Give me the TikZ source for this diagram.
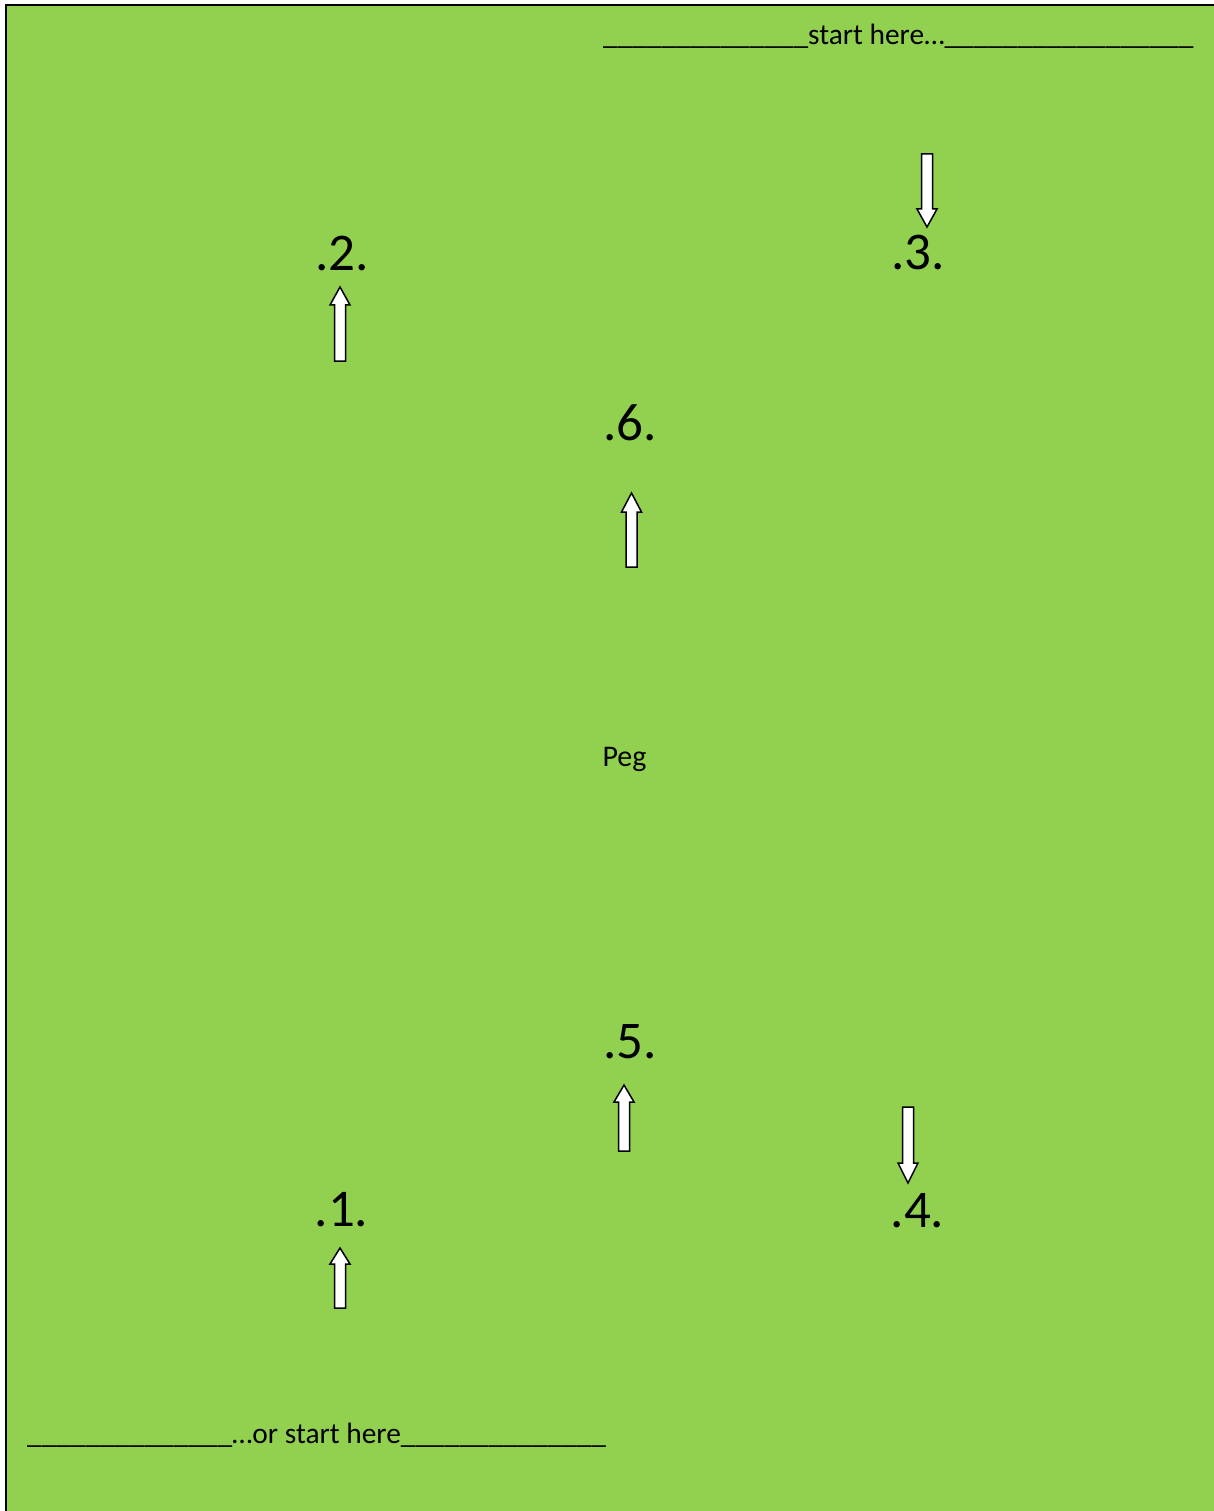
\documentclass[tikz,border=0pt]{standalone}
\usepackage{fontspec}
\setmainfont{Carlito}
\definecolor{pagegreen}{HTML}{92D050}
\newcommand\blockup[4]{% x, tip, headbase, bottom
  \filldraw[arrowbox] ({#1-5.5},-#4) -- ({#1-5.5},-#3) -- ({#1-10},-#3) -- (#1,-#2) -- ({#1+10},-#3) -- ({#1+5.5},-#3) -- ({#1+5.5},-#4) -- cycle;}
\newcommand\blockdown[4]{% x, top, headbase, tip
  \filldraw[arrowbox] ({#1-5.5},-#2) -- ({#1-5.5},-#3) -- ({#1-10},-#3) -- (#1,-#4) -- ({#1+10},-#3) -- ({#1+5.5},-#3) -- ({#1+5.5},-#2) -- cycle;}
\begin{document}
\begin{tikzpicture}[x=1pt,y=1pt,
  arrowbox/.style={fill=white,draw=black,line width=1.5pt,line join=miter},
  numlabel/.style={anchor=base,inner sep=0pt,font=\fontsize{53}{60}\selectfont},
  linelabel/.style={anchor=base west,inner sep=0pt,font=\fontsize{29.4}{34}\selectfont},
  peglabel/.style={anchor=base,inner sep=0pt,font=\fontsize{30}{36}\selectfont}]
\useasboundingbox (0,0) rectangle (1214,-1511);
\clip (0,0) rectangle (1214,-1511);
\filldraw[fill=pagegreen,draw=black,line width=2pt] (6,-5) rectangle (1230,-1530);
\node[linelabel] (top) at (603,-45) {\_\_\_\_\_\_\_\_\_\_\_\_\_\_start here…\_\_\_\_\_\_\_\_\_\_\_\_\_\_\_\_\_};
\node[linelabel] (bottom) at (27,-1443) {\_\_\_\_\_\_\_\_\_\_\_\_\_\_…or start here\_\_\_\_\_\_\_\_\_\_\_\_\_\_};
\node[numlabel] (n2) at (342,-271) {.2.};
\node[numlabel] (n3) at (918,-270) {.3.};
\node[numlabel] (n6) at (630,-440) {.6.};
\node[numlabel] (n5) at (630,-1058) {.5.};
\node[numlabel] (n1) at (341.5,-1226) {.1.};
\node[numlabel] (n4) at (917.5,-1227) {.4.};
\node[peglabel] (peg) at (624.5,-766) {Peg};
\blockup{340}{287}{305}{361}
\blockup{631.5}{493}{512}{567}
\blockup{624}{1085}{1102}{1151}
\blockup{340}{1248}{1264}{1308}
\blockdown{927}{154}{209}{227}
\blockdown{908}{1107}{1163}{1183}
\end{tikzpicture}
\end{document}
